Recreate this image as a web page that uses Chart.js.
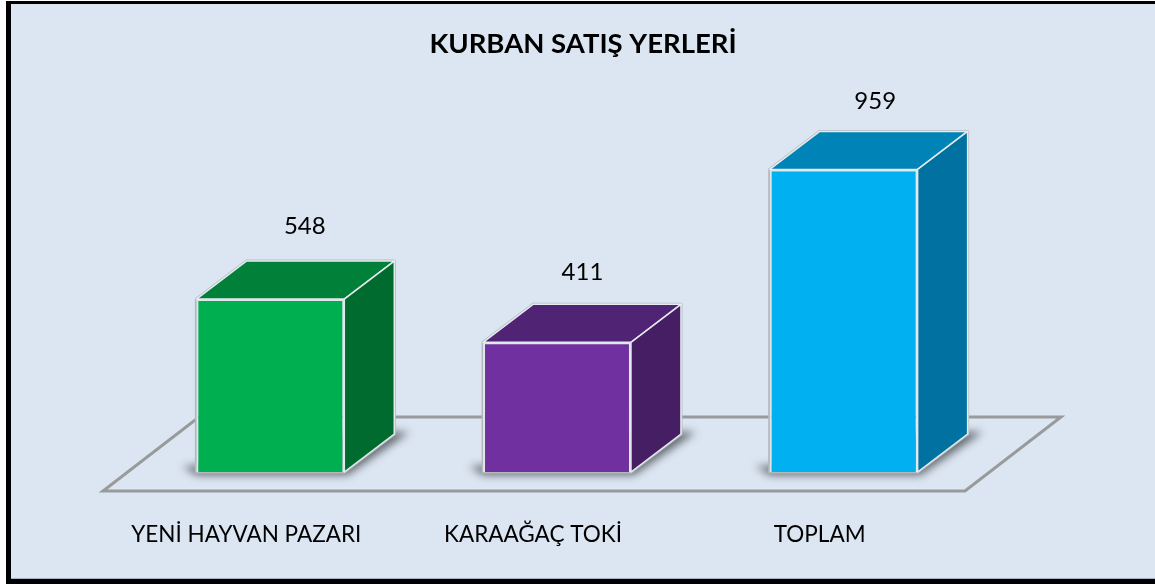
<!DOCTYPE html>
<html lang="tr">
<head>
<meta charset="utf-8">
<title>Kurban Satış Yerleri</title>
<script src="https://cdn.jsdelivr.net/npm/chart.js@4/dist/chart.umd.min.js"></script>
<style>
    html, body { margin: 0; padding: 0; background: #ffffff; overflow: hidden; }
    #marco {
        position: absolute; left: 6px; top: 1px;
        width: 1144px; height: 575px;
        border: solid #000000; border-width: 3px 0 5px 5px;
        background: #dce6f2;
        box-shadow: inset 0 -1px 0 #a3b3c4;
    }
    canvas { display: block; }
</style>
</head>
<body>
<div id="marco"><canvas id="grafico" width="1144" height="575"></canvas></div>
<script>
const titulo = "KURBAN SATIŞ YERLERİ";
const categorias = ["YENİ HAYVAN PAZARI", "KARAAĞAÇ TOKİ", "TOPLAM"];
const valores = [548, 411, 959];
const coloresFrente = ["#00b050", "#7030a0", "#00b0f0"];
const coloresTecho = ["#008038", "#512375", "#0083b6"];
const coloresLado = ["#006b2e", "#461e63", "#0071a0"];

// Profundidad de la caja 3D
const fondoX = 50, fondoY = 38;
const fuente = "Lato, Calibri, sans-serif";

const caja3d = {
    id: "caja3d",
    beforeDatasetsDraw(chart) {
        const ctx = chart.ctx;
        const base = chart.scales.y.getPixelForValue(0);
        const x = chart.scales.x;
        const puntos = chart.getDatasetMeta(0).data;

        // Piso
        ctx.save();
        ctx.strokeStyle = "#989a9c";
        ctx.lineWidth = 3;
        ctx.lineJoin = "miter";
        ctx.beginPath();
        ctx.moveTo(x.left - 24, base + 19);
        ctx.lineTo(x.right - 22, base + 19);
        ctx.lineTo(x.right + 74, base - 55);
        ctx.lineTo(x.left + 72, base - 55);
        ctx.closePath();
        ctx.stroke();
        ctx.restore();

        puntos.forEach((barra, i) => {
            const izq = barra.x - barra.width / 2;
            const der = barra.x + barra.width / 2;
            const arriba = barra.y;

            // Sombra en el piso
            ctx.save();
            ctx.filter = "blur(4px)";
            ctx.fillStyle = "rgba(50,55,60,0.72)";
            ctx.beginPath();
            ctx.moveTo(izq - 14, base - 6);
            ctx.lineTo(izq, base + 3);
            ctx.lineTo(der + 3, base + 3);
            ctx.lineTo(der + fondoX + 15, base - fondoY - 2);
            ctx.lineTo(der, base - fondoY - 2);
            ctx.lineTo(izq, base - 6);
            ctx.closePath();
            ctx.fill();
            ctx.restore();

            // Contorno gris de toda la caja
            ctx.save();
            ctx.lineJoin = "round";
            ctx.strokeStyle = "#b4b8bd";
            ctx.lineWidth = 3;
            ctx.beginPath();
            ctx.moveTo(izq, base);
            ctx.lineTo(izq, arriba);
            ctx.lineTo(izq + fondoX, arriba - fondoY);
            ctx.lineTo(der + fondoX, arriba - fondoY);
            ctx.lineTo(der + fondoX, base - fondoY);
            ctx.lineTo(der, base);
            ctx.closePath();
            ctx.stroke();

            // Techo
            ctx.fillStyle = coloresTecho[i];
            ctx.strokeStyle = "#e4ecf0";
            ctx.lineWidth = 1.5;
            ctx.beginPath();
            ctx.moveTo(izq, arriba);
            ctx.lineTo(izq + fondoX, arriba - fondoY);
            ctx.lineTo(der + fondoX, arriba - fondoY);
            ctx.lineTo(der, arriba);
            ctx.closePath();
            ctx.fill();
            ctx.stroke();

            // Lado
            ctx.fillStyle = coloresLado[i];
            ctx.beginPath();
            ctx.moveTo(der, arriba);
            ctx.lineTo(der + fondoX, arriba - fondoY);
            ctx.lineTo(der + fondoX, base - fondoY);
            ctx.lineTo(der, base);
            ctx.closePath();
            ctx.fill();
            ctx.stroke();
            ctx.restore();
        });
    },
    afterDatasetsDraw(chart) {
        const ctx = chart.ctx;
        // En el original las etiquetas no quedan alineadas igual sobre cada caja
        const correX = [34.5, 25.5, 31.5];
        const subida = [73, 70, 68];
        ctx.save();
        ctx.fillStyle = "#000000";
        ctx.font = "24px " + fuente;
        ctx.textAlign = "center";
        ctx.textBaseline = "middle";
        chart.getDatasetMeta(0).data.forEach((barra, i) => {
            ctx.fillText(valores[i], barra.x + correX[i], barra.y - subida[i]);
        });
        ctx.restore();
    }
};

// Eje invisible: solo reserva el ancho indicado
function ejeOculto(posicion, ancho) {
    return {
        position: posicion,
        min: 0,
        max: 1000,
        border: { display: false },
        grid: { display: false, drawTicks: false },
        ticks: { display: false },
        afterFit(eje) { eje.width = ancho; }
    };
}

new Chart(document.getElementById("grafico"), {
    type: "bar",
    data: {
        labels: categorias,
        datasets: [{
            data: valores,
            backgroundColor: coloresFrente,
            borderColor: "#dfe8ea",
            borderWidth: 2,
            categoryPercentage: 1,
            barPercentage: 0.516
        }]
    },
    options: {
        responsive: false,
        animation: false,
        layout: { padding: 0 },
        plugins: {
            legend: { display: false },
            tooltip: { enabled: false },
            title: {
                display: true,
                text: titulo,
                color: "#000000",
                font: { family: fuente, size: 27.5, weight: "bold", lineHeight: 1.2 },
                padding: { top: 23.5, bottom: 96 }
            }
        },
        scales: {
            x: {
                border: { display: false },
                grid: { display: false, drawTicks: false },
                ticks: {
                    color: "#000000",
                    font: { family: fuente, size: 22.5, lineHeight: 1.2 },
                    padding: 49,
                    labelOffset: -24,
                    maxRotation: 0,
                    autoSkip: false
                },
                afterFit(eje) { eje.height = 107; }
            },
            y: ejeOculto("left", 116),
            yDer: ejeOculto("right", 168)
        }
    },
    plugins: [caja3d]
});
</script>
</body>
</html>
